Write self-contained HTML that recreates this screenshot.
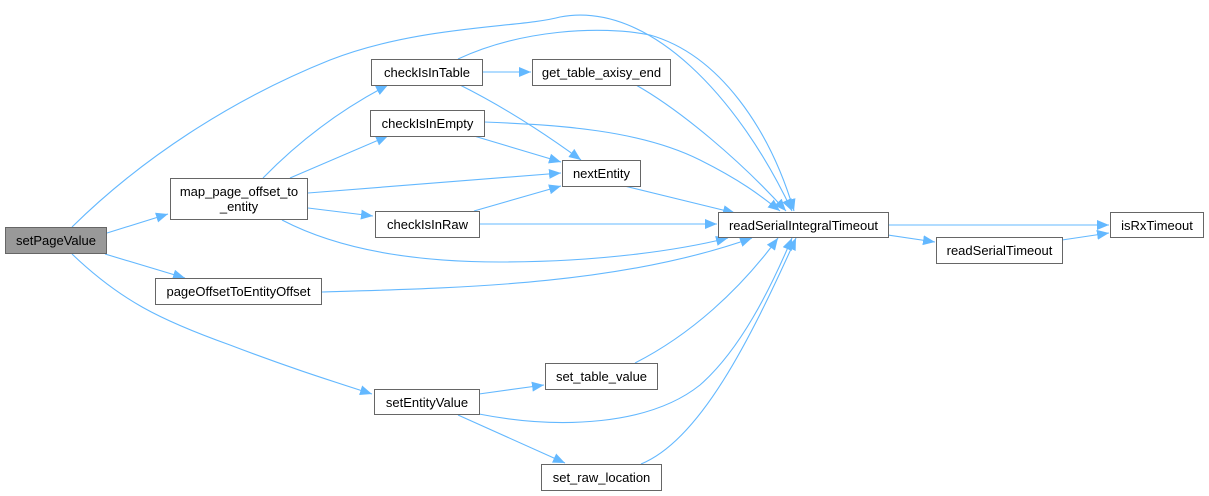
<!DOCTYPE html>
<html><head><meta charset="utf-8"><style>
body{margin:0;background:#fff;}
svg{display:block}
text{font-family:"Liberation Sans",Arial,sans-serif;font-size:13px;fill:#000;}
</style></head><body>
<svg width="1209" height="496" viewBox="0 0 1209 496" xmlns="http://www.w3.org/2000/svg">
<defs>
<marker id="a" markerUnits="userSpaceOnUse" markerWidth="14" markerHeight="12" refX="12" refY="5" orient="auto">
<path d="M0,0 L12,5 L0,10 Z" fill="#63b8ff"/>
</marker>
</defs>
<g fill="none" stroke="#63b8ff" stroke-width="1.1" marker-end="url(#a)">
<path d="M72,227 C140,160 230,100 330,60 C420,25 520,28 560,17 C650,0 740,100 792,211"/>
<path d="M107,233 L168,214"/>
<path d="M105,254 L185,278"/>
<path d="M72,254 C120,300 160,320 230,345 C290,368 335,382 372,394"/>
<path d="M263,178 C300,140 340,110 388,85"/>
<path d="M290,178 L388,136"/>
<path d="M308,193 L561,173"/>
<path d="M308,208 L373,216"/>
<path d="M282,220 C330,245 400,262 500,262 C600,262 680,250 728,238"/>
<path d="M482,72 L531,72"/>
<path d="M460,85 C500,105 540,130 581,160"/>
<path d="M458,59 C520,30 600,25 650,35 C720,55 770,130 794,211"/>
<path d="M474,136 L561,162"/>
<path d="M484,122 C560,125 640,130 700,160 C740,180 760,195 780,211"/>
<path d="M636,85 C680,110 740,160 786,211"/>
<path d="M474,211 L561,186"/>
<path d="M479,224 L717,224"/>
<path d="M612,183 L735,213"/>
<path d="M322,292 C460,288 620,285 752,238"/>
<path d="M479,394 L544,385"/>
<path d="M479,414 C560,430 650,425 700,385 C740,350 770,290 792,238"/>
<path d="M458,415 L565,463"/>
<path d="M635,363 C690,335 740,290 778,238"/>
<path d="M641,464 C700,440 750,340 796,238"/>
<path d="M888,225 L1109,225"/>
<path d="M888,235 L935,242"/>
<path d="M1062,240 L1109,233"/>
</g>
<g stroke="#666" stroke-width="1" fill="#fff">
<rect x="5.5" y="227.5" width="101" height="26" fill="#999"/>
<rect x="170.5" y="178.5" width="137" height="41"/>
<rect x="155.5" y="278.5" width="166" height="26"/>
<rect x="371.5" y="59.5" width="111" height="26"/>
<rect x="370.5" y="110.5" width="114" height="26"/>
<rect x="375.5" y="211.5" width="104" height="26"/>
<rect x="374.5" y="389.5" width="105" height="25"/>
<rect x="532.5" y="59.5" width="138" height="26"/>
<rect x="562.5" y="160.5" width="78" height="26"/>
<rect x="545.5" y="363.5" width="112" height="26"/>
<rect x="541.5" y="464.5" width="120" height="26"/>
<rect x="718.5" y="212.5" width="170" height="25"/>
<rect x="936.5" y="237.5" width="126" height="26"/>
<rect x="1110.5" y="212.5" width="93" height="25"/>
</g>
<g text-anchor="middle">
<text x="56" y="245">setPageValue</text>
<text x="239" y="196">map_page_offset_to</text>
<text x="239" y="211">_entity</text>
<text x="238.5" y="296">pageOffsetToEntityOffset</text>
<text x="427" y="77">checkIsInTable</text>
<text x="427.5" y="128">checkIsInEmpty</text>
<text x="427.5" y="229">checkIsInRaw</text>
<text x="427" y="407">setEntityValue</text>
<text x="601.5" y="77">get_table_axisy_end</text>
<text x="601.5" y="178">nextEntity</text>
<text x="601.5" y="381">set_table_value</text>
<text x="601.5" y="482">set_raw_location</text>
<text x="803.5" y="230">readSerialIntegralTimeout</text>
<text x="999.5" y="255">readSerialTimeout</text>
<text x="1157" y="230">isRxTimeout</text>
</g>
</svg>
</body></html>
